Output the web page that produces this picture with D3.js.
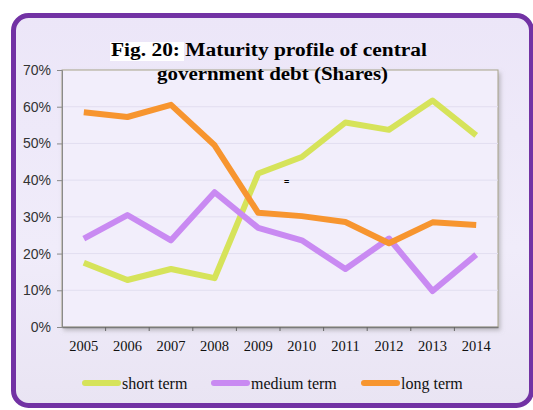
<!DOCTYPE html>
<html>
<head>
    <style>
        html, body { margin: 0; background: #fff; overflow: hidden; }
        svg { display: block; }
        .title { font-family: "Liberation Serif", "DejaVu Serif", serif; font-weight: bold; font-size: 18px; fill: #000; }
        .yaxis text { font-family: "Liberation Sans Narrow", "Liberation Sans", Arial, sans-serif; font-size: 14px; fill: #333; }
        .xaxis text { font-family: "Liberation Serif", serif; font-size: 14.5px; fill: #111; }
        .legend text { font-family: "Liberation Serif", serif; font-size: 16px; fill: #111; }
    </style>
    <script src="https://d3js.org/d3.v7.min.js"></script>
</head>
<body>
    <svg width="533" height="410"></svg>
    <script>
        // data
        var years = ["2005", "2006", "2007", "2008", "2009", "2010", "2011", "2012", "2013", "2014"];
        var shortTerm = [0.175, 0.128, 0.158, 0.133, 0.418, 0.463, 0.557, 0.537, 0.617, 0.522];
        var mediumTerm = [0.241, 0.305, 0.236, 0.367, 0.27, 0.236, 0.158, 0.241, 0.098, 0.197];
        var longTerm = [0.585, 0.572, 0.605, 0.495, 0.311, 0.302, 0.286, 0.228, 0.285, 0.278];
        var yTicks = [0, 0.1, 0.2, 0.3, 0.4, 0.5, 0.6, 0.7];

        var series = [
            { name: "short term", values: shortTerm, color: "#d6e35a" },
            { name: "medium term", values: mediumTerm, color: "#c98af2" },
            { name: "long term", values: longTerm, color: "#f7952f" }
        ];

        var svg = d3.select("svg");
        var defs = svg.append("defs");

        var grad = defs.append("linearGradient").attr("id", "panelGrad")
            .attr("x1", 0).attr("y1", 0).attr("x2", 0).attr("y2", 1);
        grad.append("stop").attr("offset", "0%").attr("stop-color", "#ece6f8");
        grad.append("stop").attr("offset", "60%").attr("stop-color", "#f0ecfa");
        grad.append("stop").attr("offset", "100%").attr("stop-color", "#e9e4f3");

        var filt = defs.append("filter").attr("id", "shadow").attr("x", "-5%").attr("y", "-5%").attr("width", "115%").attr("height", "115%");
        filt.append("feDropShadow").attr("dx", 2).attr("dy", 3).attr("stdDeviation", 2).attr("flood-color", "#888").attr("flood-opacity", 0.5);

        // outer panel
        svg.append("rect")
            .attr("x", 13.5).attr("y", 15.5)
            .attr("width", 518).attr("height", 390)
            .attr("rx", 15)
            .attr("fill", "url(#panelGrad)")
            .attr("stroke", "#7232a4")
            .attr("stroke-width", 5);

        var margin = { left: 62, right: 498, top: 70, bottom: 327 };

        var x = d3.scaleBand().domain(years).range([margin.left, margin.right]);
        var y = d3.scaleLinear().domain([0, 0.7]).range([margin.bottom, margin.top]);

        // plot area
        svg.append("rect")
            .attr("x", margin.left).attr("y", margin.top)
            .attr("width", margin.right - margin.left).attr("height", margin.bottom - margin.top)
            .attr("fill", "#f2eefb")
            .attr("stroke", "#a8a38a")
            .attr("stroke-width", 1)
            .attr("filter", "url(#shadow)");

        svg.append("g").selectAll("line")
            .data(yTicks.slice(1, -1))
            .enter().append("line")
            .attr("x1", margin.left).attr("x2", margin.right)
            .attr("y1", function(d) { return y(d); }).attr("y2", function(d) { return y(d); })
            .attr("stroke", "#e2def0").attr("stroke-width", 1);

        var yAxis = svg.append("g")
            .attr("class", "yaxis")
            .attr("transform", "translate(" + margin.left + ",0)")
            .call(d3.axisLeft(y).tickValues(yTicks).tickFormat(d3.format(".0%")).tickSize(5).tickPadding(6));
        yAxis.select(".domain").attr("stroke", "#8a8a8a");
        yAxis.selectAll(".tick line").attr("stroke", "#8a8a8a");

        var xAxis = svg.append("g")
            .attr("class", "xaxis")
            .attr("transform", "translate(0," + margin.bottom + ")")
            .call(d3.axisBottom(x).tickSize(0).tickPadding(14));
        xAxis.select(".domain").attr("stroke", "#7a7a7a").attr("stroke-width", 1.5);

        // tick marks between categories
        svg.append("g").selectAll("line")
            .data(years.slice(1))
            .enter().append("line")
            .attr("x1", function(d) { return x(d); }).attr("x2", function(d) { return x(d); })
            .attr("y1", margin.bottom).attr("y2", margin.bottom + 4)
            .attr("stroke", "#666");

        var line = d3.line()
            .x(function(d, i) { return x(years[i]) + x.bandwidth() / 2; })
            .y(function(d) { return y(d); });

        svg.append("g").selectAll("path")
            .data(series)
            .enter().append("path")
            .attr("d", function(s) { return line(s.values); })
            .attr("fill", "none")
            .attr("stroke", function(s) { return s.color; })
            .attr("stroke-width", 6)
            .attr("stroke-linejoin", "round");

        svg.append("text").attr("x", 284).attr("y", 185).text("=")
            .style("font-size", "9px").style("font-family", "Liberation Sans").style("font-weight", "bold");

        // title
        svg.append("rect").attr("x", 110).attr("y", 42).attr("width", 74).attr("height", 19).attr("fill", "#fff");
        svg.append("text").attr("class", "title").attr("x", 111).attr("y", 56)
            .attr("textLength", 316).attr("lengthAdjust", "spacingAndGlyphs")
            .text("Fig. 20:  Maturity profile of central");
        svg.append("text").attr("class", "title").attr("x", 157).attr("y", 80)
            .attr("textLength", 231).attr("lengthAdjust", "spacingAndGlyphs")
            .text("government debt (Shares)");

        // legend
        var legendX = [83, 212, 362];
        var legend = svg.append("g").attr("class", "legend");
        series.forEach(function(s, i) {
            legend.append("line")
                .attr("x1", legendX[i] + 2).attr("x2", legendX[i] + 35)
                .attr("y1", 383).attr("y2", 383)
                .attr("stroke", s.color).attr("stroke-width", 6).attr("stroke-linecap", "round");
            legend.append("text").attr("x", legendX[i] + 39).attr("y", 389).text(s.name);
        });
    </script>
</body>
</html>
